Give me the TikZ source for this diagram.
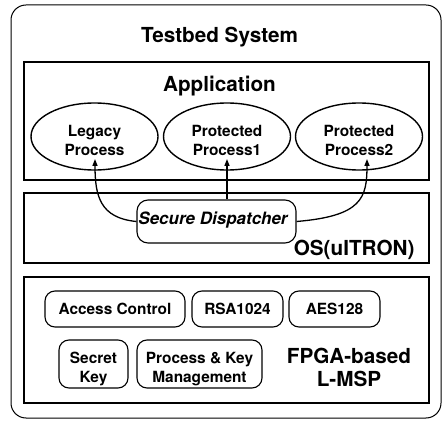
\documentclass[tikz,border=0pt]{standalone}
\usepackage{fontspec}
\setmainfont{TeX Gyre Heros}
\usetikzlibrary{shapes.geometric,arrows.meta}
\begin{document}
\begin{tikzpicture}[x=1pt,y=-1pt,
  bigtext/.style={font=\fontsize{20.7}{23}\selectfont\bfseries},
  smalltext/.style={font=\fontsize{15.4}{19.6}\selectfont\bfseries},
  frame/.style={draw, line width=1pt, rounded corners=15pt, minimum width=430pt, minimum height=413pt, inner sep=0pt},
  layer/.style={draw, line width=1.8pt, minimum width=405pt, inner sep=0pt},
  proc/.style={draw, ellipse, line width=1.4pt, minimum width=127pt, minimum height=67pt, inner sep=0pt},
  proctext/.style={smalltext, align=center, yshift=-4pt},
  unit/.style={draw, rounded corners=10pt, line width=1.1pt, inner sep=0pt, align=center, smalltext, minimum height=36pt},
  unittext/.style={smalltext, align=center, yshift=-5pt},
  link/.style={line width=1.3pt},
  tip/.style={-{Triangle[length=7pt,width=5pt]}}
]
\useasboundingbox (0,0) rectangle (442,422);

% outer frame and the three layers
\node[frame] (sys) at (226,211.5) {};
\node[layer, minimum height=118pt] (app) at (226.5,121) {};
\node[layer, minimum height=70pt] (os) at (226.5,228) {};
\node[layer, minimum height=126pt] (hw) at (226.5,340) {};

% titles
\node[bigtext, anchor=base] (systitle) at (219.5,42.5) {Testbed System};
\node[bigtext, anchor=base] (apptitle) at (219.5,91.5) {Application};
\node[bigtext, anchor=base east] (ostitle) at (418,256) {OS(uITRON)};
\node[bigtext, align=center] (hwtitle) at (349,367) {FPGA-based\\L-MSP};

% processes
\node[proc, label={[proctext]center:Legacy\\Process}] (legacy) at (94.5,136.5) {};
\node[proc, label={[proctext]center:Protected\\Process1}] (p1) at (227,136.5) {};
\node[proc, label={[proctext]center:Protected\\Process2}] (p2) at (359,136.5) {};

% dispatcher
\node[draw, rounded corners=11pt, line width=1.1pt, minimum width=159pt, minimum height=43pt, inner sep=0pt,
      label={[font=\fontsize{17}{20}\selectfont\bfseries\itshape, xshift=-3.5pt, yshift=1.5pt]center:Secure Dispatcher}]
      (disp) at (216.5,221.5) {};

% hardware units
\node[unit, minimum width=140pt] (acl) at (115,309) {Access Control};
\node[unit, minimum width=91pt] (rsa) at (237.5,309) {RSA1024};
\node[unit, minimum width=91pt] (aes) at (334.5,309) {AES128};
\node[unit, minimum width=69pt, minimum height=48pt, label={[unittext]center:Secret\\Key}] (key) at (93.5,364) {};
\node[unit, minimum width=125pt, minimum height=48pt, label={[unittext]center:Process \& Key\\Management}] (pkm) at (199.5,364) {};

% arrow end points inside the processes
\coordinate (legacyin) at (95,159);
\coordinate (p1in) at (227,159);
\coordinate (p2in) at (367,159);

% dispatch paths
\draw[link,tip] (disp.west) .. controls (100,218) and (95,196) .. (legacyin);
\draw[link,tip] (disp.north -| p1in) -- (p1in);
\draw[link,tip] (disp.east) .. controls (362,216) and (367,198) .. (p2in);
\end{tikzpicture}
\end{document}
